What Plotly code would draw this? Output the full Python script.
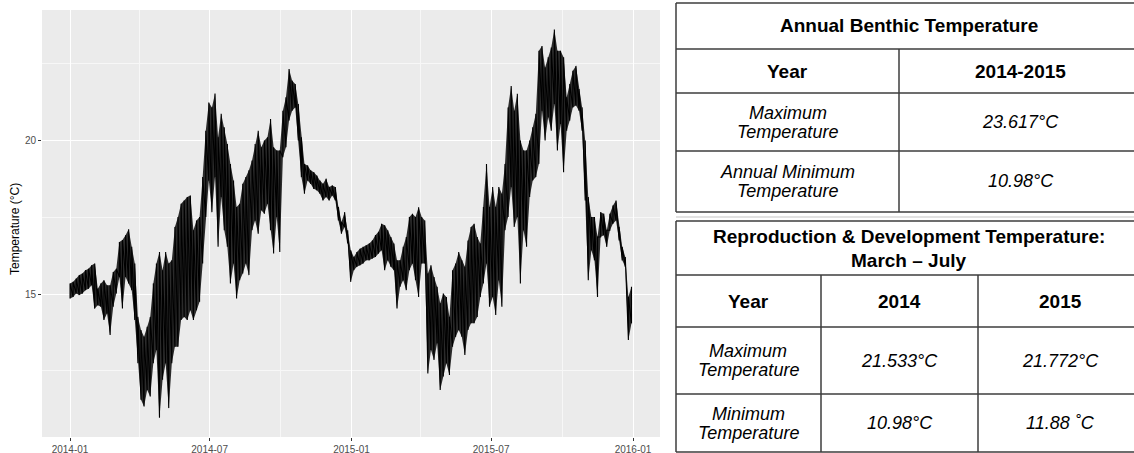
import pandas as pd
import plotly.graph_objects as go

W, H = 1134, 453
FONT = "Liberation Sans, Arial, sans-serif"

# Benthic temperature envelope: lowest / highest reading in each 4-day window
window_start = pd.date_range("2014-01-01", periods=183, freq="4D")

temp_low = [
    14.86, 14.91, 15.02, 14.97, 15.02, 15.13, 15.18, 15.29, 14.53, 14.64,
    14.59, 14.16, 14.37, 13.67, 14.59, 15.02, 15.56, 14.53, 15.56, 15.35,
    15.13, 14.16, 12.75, 11.56, 11.34, 11.88, 11.67, 12.75, 13.18, 10.98,
    12.21, 12.75,
    11.29, 12.75, 13.29, 13.29, 14.16, 14.26, 14.16, 14.48, 14.16, 14.48,
    14.75, 16.00, 17.51, 18.70, 17.67, 18.81, 16.54, 18.16, 17.08, 16.54,
    15.35, 16.00, 14.86, 15.45, 15.67, 16.00, 15.62, 17.08, 17.40, 16.97,
    17.73, 17.62, 17.94,
    17.08, 16.32, 17.51, 16.37, 19.46, 19.78, 20.65, 20.97, 21.08, 20.00,
    18.81, 18.27, 18.70, 18.59, 18.43, 18.38, 18.27, 18.05, 18.16, 18.05,
    18.21, 18.05, 17.40, 16.97, 17.19, 16.65, 15.40, 15.78, 15.89, 15.94,
    16.00, 16.10,
    16.10, 16.16, 16.21, 16.32, 16.43, 15.78, 16.10, 15.89, 15.78, 14.53,
    15.24, 15.45, 15.13, 15.78, 16.00, 15.45, 14.91, 16.00, 16.00, 12.42,
    13.18, 12.86, 13.40, 11.88, 12.32, 12.75, 12.37, 13.29, 13.61, 13.83,
    13.61, 13.02, 13.83, 14.05,
    14.05, 14.26, 14.91, 15.35, 16.00, 14.59, 14.91, 14.32, 15.45, 14.59,
    17.08, 17.51, 18.49, 17.19, 17.51, 15.35, 17.08, 16.54, 18.16, 18.70,
    18.81, 19.24, 20.97, 20.00, 20.76, 20.32, 21.19, 19.68, 20.54, 18.97,
    20.32, 20.65, 21.08,
    21.14, 20.97, 20.32, 18.05, 15.45, 16.43, 16.10, 14.91, 16.86, 16.92,
    16.54, 17.08, 17.29, 17.40, 16.75, 16.10, 15.89, 13.51, 14.05,
]

temp_high = [
    15.35, 15.40, 15.51, 15.62, 15.67, 15.78, 15.83, 15.94, 16.00, 15.18,
    15.35, 15.45, 15.29, 15.29, 15.72, 15.83, 16.70, 16.76, 16.92, 17.11,
    16.54, 16.00, 14.26, 13.83, 13.61, 13.94, 14.26, 15.35, 16.00, 16.37,
    15.78, 16.37,
    16.00, 16.10, 17.19, 17.51, 17.94, 18.05, 18.16, 18.21, 17.08, 17.40,
    17.51, 18.81, 20.32, 21.24, 21.08, 21.533, 20.11, 20.87, 20.43, 19.89,
    19.24, 18.70, 17.84, 17.94, 18.59, 18.81, 19.03, 19.35, 19.89, 20.32,
    19.78, 20.00, 20.11,
    20.70, 19.78, 19.68, 19.68, 20.97, 21.41, 22.33, 21.95, 21.84, 21.19,
    20.11, 19.24, 19.19, 19.03, 18.97, 18.86, 18.70, 18.59, 18.76, 18.49,
    18.54, 18.49, 17.84, 17.35, 17.67, 17.08, 16.43, 16.21, 16.37, 16.48,
    16.54, 16.59,
    16.65, 16.75, 16.92, 17.03, 17.29, 17.24, 17.08, 16.86, 16.65, 16.10,
    16.10, 16.54, 16.86, 17.51, 17.62, 17.51, 17.83, 17.51, 17.40, 15.67,
    15.94, 15.56, 15.24, 14.70, 15.02, 14.91, 14.26, 15.78, 16.00, 16.37,
    16.10, 15.89, 16.75, 17.19,
    17.29, 16.86, 16.65, 17.84, 19.24, 17.84, 18.49, 17.84, 18.49, 18.27,
    19.24, 21.08, 21.772, 20.97, 21.52, 20.00, 19.68, 19.68, 20.00, 20.43,
    20.87, 22.92, 23.08, 22.38, 22.71, 23.03, 23.617, 22.92, 22.92, 22.71,
    21.41, 21.84, 22.27,
    22.43, 21.68, 21.08, 20.00, 18.16, 17.51, 17.51, 16.86, 17.67, 17.62,
    17.08, 17.62, 17.89, 18.05, 17.19, 16.54, 16.21, 14.91, 15.24,
]

x_tick_vals = ["2014-01-01", "2014-07-01", "2015-01-01", "2015-07-01", "2016-01-01"]
x_tick_text = ["2014-01", "2014-07", "2015-01", "2015-07", "2016-01"]
x_minor_vals = ["2014-04-01", "2014-10-01", "2015-04-01", "2015-10-01"]
y_tick_vals = [15, 20]
y_minor_vals = [12.5, 17.5, 22.5]

annual_title = ["Annual Benthic Temperature"]
annual_header = ["Year", "2014-2015"]
annual_rows = [
    [["Maximum", "Temperature"], ["23.617°C"]],
    [["Annual Minimum", "Temperature"], ["10.98°C"]],
]

repro_title = ["Reproduction & Development Temperature:", "March – July"]
repro_header = ["Year", "2014", "2015"]
repro_rows = [
    [["Maximum", "Temperature"], ["21.533°C"], ["21.772°C"]],
    [["Minimum", "Temperature"], ["10.98°C"], ["11.88 ˚C"]],
]

fig = go.Figure()

# shaded body of the record between window lows and highs
fig.add_trace(go.Scatter(
    x=window_start, y=temp_low, mode="lines",
    line=dict(color="rgba(0,0,0,0)", width=0),
    hoverinfo="skip", showlegend=False,
))
fig.add_trace(go.Scatter(
    x=window_start, y=temp_high, mode="lines", fill="tonexty",
    fillcolor="rgba(0,0,0,0.82)",
    line=dict(color="rgba(0,0,0,0)", width=0),
    hoverinfo="skip", showlegend=False,
))

# zig-zag between window low and high for the spiky texture
x_pts, y_pts = [], []
for d, lo, hi in zip(window_start, temp_low, temp_high):
    x_pts += [d, d]
    y_pts += [lo, hi]
fig.add_trace(go.Scatter(
    x=x_pts, y=y_pts, mode="lines",
    line=dict(color="black", width=1.1),
    hoverinfo="skip", showlegend=False,
))


def fx(px):
    return px / W


def fy(py):
    return 1 - py / H


axis_common = dict(
    showgrid=True, gridcolor="white", gridwidth=1.1,
    zeroline=False, showline=False,
    ticks="outside", ticklen=3, tickwidth=1, tickcolor="#333333",
    tickfont=dict(family=FONT, size=10, color="#4D4D4D"),
    automargin=False, fixedrange=True,
)

fig.update_layout(
    width=W, height=H,
    margin=dict(l=0, r=0, t=0, b=0),
    paper_bgcolor="white",
    plot_bgcolor="#EBEBEB",
    showlegend=False,
    xaxis=dict(
        domain=[fx(42), fx(660)],
        type="date",
        range=["2013-11-25 16:00", "2016-02-05"],
        tickmode="array", tickvals=x_tick_vals, ticktext=x_tick_text,
        minor=dict(tickmode="array", tickvals=x_minor_vals, showgrid=True,
                   gridcolor="#F7F7F7", gridwidth=0.6, ticks=""),
        **axis_common,
    ),
    yaxis=dict(
        domain=[fy(437), fy(10)],
        range=[10.35, 24.25],
        tickmode="array", tickvals=y_tick_vals,
        ticktext=[str(v) for v in y_tick_vals],
        minor=dict(tickmode="array", tickvals=y_minor_vals, showgrid=True,
                   gridcolor="#F7F7F7", gridwidth=0.6, ticks=""),
        **axis_common,
    ),
)

annotations = [dict(
    x=fx(15), y=fy(229), xref="paper", yref="paper",
    text="Temperature (°C)", textangle=-90, showarrow=False,
    font=dict(family=FONT, size=12, color="black"),
    xanchor="center", yanchor="middle",
)]
shapes = []

LINE = dict(color="#3C3C3C", width=1.5)


def hline(y, x0, x1, line=LINE):
    shapes.append(dict(type="line", xref="paper", yref="paper",
                       x0=fx(x0), x1=fx(x1), y0=fy(y), y1=fy(y), line=line))


def vline(x, y0, y1):
    shapes.append(dict(type="line", xref="paper", yref="paper",
                       x0=fx(x), x1=fx(x), y0=fy(y0), y1=fy(y1), line=LINE))


def cell_text(lines, cx, cy, bold=False, italic=False, size=17, spacing=19):
    n = len(lines)
    for i, t in enumerate(lines):
        y = cy + (i - (n - 1) / 2) * spacing
        txt = t
        if bold:
            txt = f"<b>{txt}</b>"
        if italic:
            txt = f"<i>{txt}</i>"
        annotations.append(dict(
            x=fx(cx), y=fy(y), xref="paper", yref="paper", text=txt,
            showarrow=False, xanchor="center", yanchor="middle",
            font=dict(family=FONT, size=size, color="black"),
        ))


BOLD_SIZE = 19
BODY_SIZE = 18

# ---- table 1: annual benthic temperature ----
T_LEFT, T_RIGHT = 676, 1142
t1_rows = [3, 49, 93, 151, 212]
t1_cols = [T_LEFT, 899, T_RIGHT]
for y in t1_rows:
    hline(y, T_LEFT, W)
vline(T_LEFT, t1_rows[0], t1_rows[-1])
vline(t1_cols[1], t1_rows[1], t1_rows[-1])

cell_text(annual_title, (T_LEFT + T_RIGHT) / 2, (t1_rows[0] + t1_rows[1]) / 2,
          bold=True, size=BOLD_SIZE)
for j, txt in enumerate(annual_header):
    cx = (t1_cols[j] + t1_cols[j + 1]) / 2
    cell_text([txt], cx, (t1_rows[1] + t1_rows[2]) / 2, bold=True, size=BOLD_SIZE)
for i, row in enumerate(annual_rows):
    cy = (t1_rows[i + 2] + t1_rows[i + 3]) / 2
    for j, lines in enumerate(row):
        cx = (t1_cols[j] + t1_cols[j + 1]) / 2
        cell_text(lines, cx, cy, italic=True, size=BODY_SIZE)

hline(217, T_LEFT, W, line=dict(color="#E2E2E2", width=2))

# ---- table 2: reproduction & development temperature ----
t2_rows = [221, 275, 327, 394, 452]
t2_cols = [T_LEFT, 821, 978, T_RIGHT]
for y in t2_rows:
    hline(y, T_LEFT, W)
vline(T_LEFT, t2_rows[0], t2_rows[-1])
for x in t2_cols[1:3]:
    vline(x, t2_rows[1], t2_rows[-1])

cell_text(repro_title, (T_LEFT + T_RIGHT) / 2, (t2_rows[0] + t2_rows[1]) / 2,
          bold=True, size=BOLD_SIZE, spacing=24)
for j, txt in enumerate(repro_header):
    cx = (t2_cols[j] + t2_cols[j + 1]) / 2
    cell_text([txt], cx, (t2_rows[1] + t2_rows[2]) / 2, bold=True, size=BOLD_SIZE)
for i, row in enumerate(repro_rows):
    cy = (t2_rows[i + 2] + t2_rows[i + 3]) / 2
    for j, lines in enumerate(row):
        cx = (t2_cols[j] + t2_cols[j + 1]) / 2
        cell_text(lines, cx, cy, italic=True, size=BODY_SIZE)

fig.update_layout(annotations=annotations, shapes=shapes)
fig.write_html("out.html")
